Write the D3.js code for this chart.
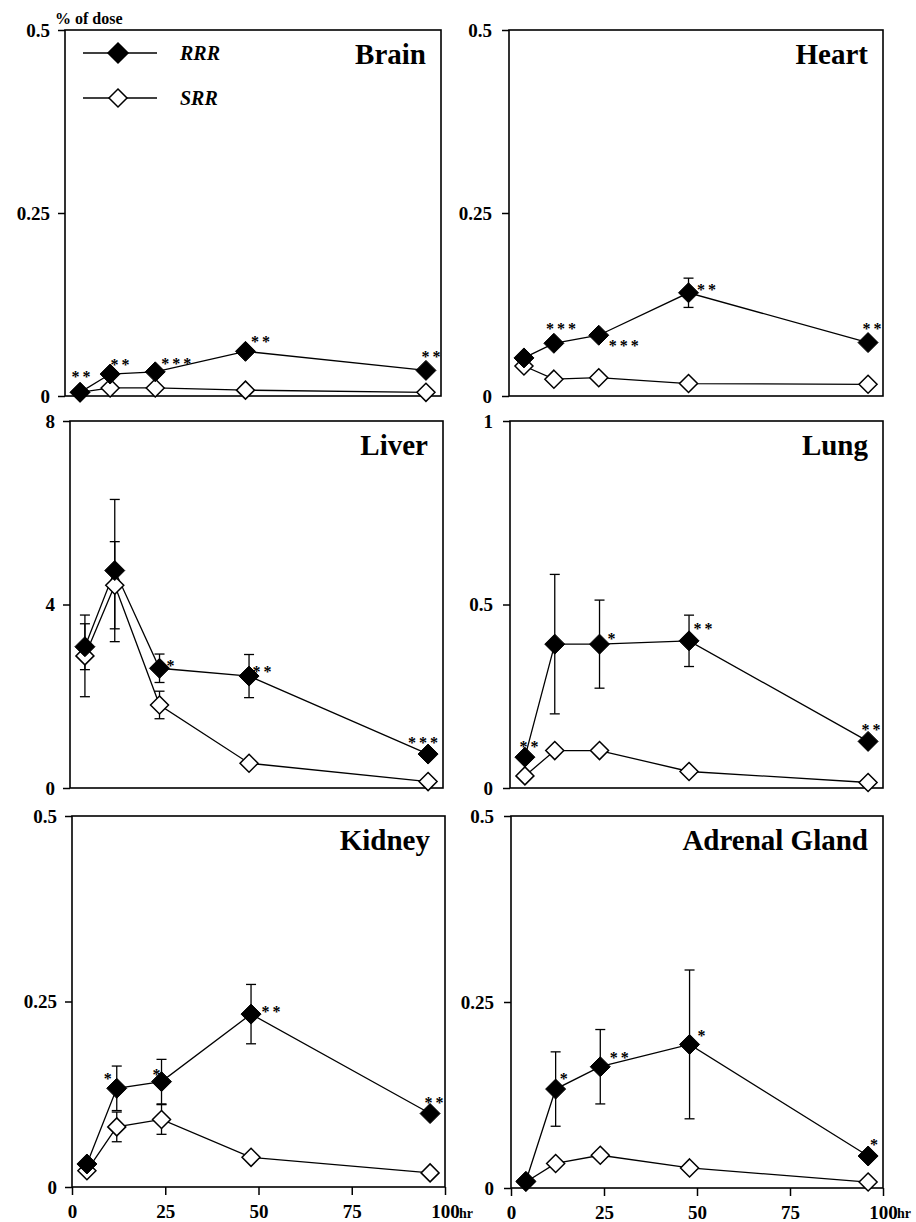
<!DOCTYPE html>
<html>
<head>
<meta charset="utf-8">
<script src="https://cdn.jsdelivr.net/npm/d3@7"></script>
<style>
  body { margin: 0; background: #fff; }
  svg { display: block; }
  text { font-family: "Liberation Serif", "Times New Roman", serif; font-weight: bold; fill: #000; }
</style>
</head>
<body>
<div id="root"></div>
<script>
// time points (hr)
const hours = [4, 12, 24, 48, 96];
const seriesNames = ["RRR", "SRR"];
const xTicks = [0, 25, 50, 75, 100];

// values (% of dose)
const brainRRR = [0.005, 0.030, 0.033, 0.061, 0.035];
const brainSRR = [0.005, 0.011, 0.011, 0.008, 0.005];
const brainStars = ["**", "**", "***", "**", "**"];

const heartRRR = [0.052, 0.072, 0.083, 0.141, 0.073];
const heartSRR = [0.041, 0.023, 0.025, 0.017, 0.016];
const heartRRRErr = [0, 0, 0, 0.02, 0];
const heartStars = ["", "***", "***", "**", "**"];

const liverRRR = [3.08, 4.74, 2.61, 2.44, 0.74];
const liverSRR = [2.88, 4.42, 1.81, 0.54, 0.14];
const liverRRRErr = [0.5, 1.55, 0.31, 0.47, 0];
const liverSRRErr = [0.89, 0.95, 0.3, 0, 0];
const liverStars = ["", "", "*", "**", "***"];

const lungRRR = [0.084, 0.392, 0.392, 0.401, 0.127];
const lungSRR = [0.033, 0.102, 0.102, 0.045, 0.015];
const lungRRRErr = [0, 0.19, 0.12, 0.07, 0];
const lungStars = ["**", "", "*", "**", "**"];

const kidneyRRR = [0.031, 0.133, 0.142, 0.233, 0.099];
const kidneySRR = [0.022, 0.081, 0.091, 0.040, 0.019];
const kidneyRRRErr = [0, 0.03, 0.03, 0.04, 0];
const kidneySRRErr = [0, 0.02, 0.02, 0, 0];
const kidneyStars = ["", "*", "*", "**", "**"];

const adrenalRRR = [0.009, 0.133, 0.163, 0.193, 0.043];
const adrenalSRR = [0.008, 0.033, 0.044, 0.027, 0.008];
const adrenalRRRErr = [0, 0.05, 0.05, 0.10, 0];
const adrenalStars = ["", "*", "**", "*", "*"];

const zeros = [0, 0, 0, 0, 0];

const panels = [
  { name: "Brain", max: 0.5, ticks: [0, 0.25, 0.5], rrr: brainRRR, srr: brainSRR, rrrErr: zeros, srrErr: zeros, stars: brainStars },
  { name: "Heart", max: 0.5, ticks: [0, 0.25, 0.5], rrr: heartRRR, srr: heartSRR, rrrErr: heartRRRErr, srrErr: zeros, stars: heartStars },
  { name: "Liver", max: 8, ticks: [0, 4, 8], rrr: liverRRR, srr: liverSRR, rrrErr: liverRRRErr, srrErr: liverSRRErr, stars: liverStars },
  { name: "Lung", max: 1, ticks: [0, 0.5, 1], rrr: lungRRR, srr: lungSRR, rrrErr: lungRRRErr, srrErr: zeros, stars: lungStars },
  { name: "Kidney", max: 0.5, ticks: [0, 0.25, 0.5], rrr: kidneyRRR, srr: kidneySRR, rrrErr: kidneyRRRErr, srrErr: kidneySRRErr, stars: kidneyStars },
  { name: "Adrenal Gland", max: 0.5, ticks: [0, 0.25, 0.5], rrr: adrenalRRR, srr: adrenalSRR, rrrErr: adrenalRRRErr, srrErr: zeros, stars: adrenalStars }
];

// layout: panel boxes and star placement (pixel offsets from the point)
const boxes = [
  { x0: 65, x1: 441, y0: 30, y1: 396 },
  { x0: 509, x1: 883, y0: 30, y1: 396 },
  { x0: 70, x1: 443, y0: 421, y1: 788 },
  { x0: 510, x1: 883, y0: 421, y1: 788 },
  { x0: 72, x1: 445, y0: 816, y1: 1187 },
  { x0: 511, x1: 883, y0: 816, y1: 1188 }
];
const starOffsets = [
  [[1, -19], [10, -13], [21, -12], [15, -13], [5, -17]],
  [[0, 0], [7, -18], [25, 7], [18, -7], [4, -18]],
  [[0, 0], [0, 0], [11, -6], [13, -8], [-5, -15]],
  [[4, -14], [0, 0], [12, -9], [14, -16], [3, -15]],
  [[0, 0], [-9, -13], [-5, -11], [20, -6], [4, -15]],
  [[0, 0], [8, -14], [19, -13], [12, -12], [6, -15]]
];

const W = 916, H = 1222;
const svg = d3.select("#root").append("svg")
  .attr("width", W)
  .attr("height", H);

const diamond = r => `M0,${-r}L${r},0L0,${r}L${-r},0Z`;

panels.forEach((p, pi) => {
  const b = boxes[pi];
  const x = d3.scaleLinear().domain([0, 100]).range([b.x0, b.x1]);
  const y = d3.scaleLinear().domain([0, p.max]).range([b.y1, b.y0]);
  const g = svg.append("g").attr("class", "panel");

  // frame
  g.append("rect")
    .attr("x", b.x0).attr("y", b.y0)
    .attr("width", b.x1 - b.x0).attr("height", b.y1 - b.y0)
    .attr("fill", "none").attr("stroke", "#000").attr("stroke-width", 1.6);

  // y axis
  const yAxis = g.append("g")
    .attr("transform", `translate(${b.x0},0)`)
    .call(d3.axisLeft(y).tickValues(p.ticks).tickSize(7).tickPadding(pi % 2 ? 10 : 8).tickFormat(d => String(d)));
  yAxis.select(".domain").remove();
  yAxis.selectAll("line").attr("stroke-width", 1.5);
  yAxis.selectAll("text")
    .attr("font-size", 19)
    .attr("font-family", "Liberation Serif, serif")
    .attr("font-weight", "bold");

  // x axis only for the bottom row
  if (pi >= 4) {
    const xAxis = g.append("g")
      .attr("transform", `translate(0,${b.y1})`)
      .call(d3.axisBottom(x).tickValues(xTicks).tickSize(8).tickPadding(10));
    xAxis.select(".domain").remove();
    xAxis.selectAll("line").attr("stroke-width", 1.5);
    xAxis.selectAll("text")
      .attr("font-size", 19)
      .attr("font-family", "Liberation Serif, serif")
      .attr("font-weight", "bold");
    g.append("text")
      .attr("x", x(100) + 14)
      .attr("y", H - 4)
      .attr("font-size", 14)
      .text("hr");
  }

  // title
  g.append("text")
    .attr("x", b.x1 - 15)
    .attr("y", b.y0 + 34)
    .attr("text-anchor", "end")
    .attr("font-size", 29)
    .text(p.name);

  const line = d3.line().x((d, i) => x(hours[i])).y(d => y(d));

  // error bars
  [[p.srr, p.srrErr], [p.rrr, p.rrrErr]].forEach(([vals, errs]) => {
    vals.forEach((v, i) => {
      if (!errs[i]) return;
      const cx = x(hours[i]);
      const top = y(v + errs[i]), bot = y(v - errs[i]);
      g.append("line").attr("x1", cx).attr("x2", cx).attr("y1", top).attr("y2", bot)
        .attr("stroke", "#000").attr("stroke-width", 1.3);
      [top, bot].forEach(yy => {
        g.append("line").attr("x1", cx - 5).attr("x2", cx + 5).attr("y1", yy).attr("y2", yy)
          .attr("stroke", "#000").attr("stroke-width", 1.3);
      });
    });
  });

  // lines
  [p.srr, p.rrr].forEach(vals => {
    g.append("path").datum(vals)
      .attr("fill", "none").attr("stroke", "#000").attr("stroke-width", 1.3)
      .attr("d", line);
  });

  // markers: SRR open, RRR filled on top
  g.selectAll(".srr").data(p.srr).join("path")
    .attr("class", "srr")
    .attr("transform", (d, i) => `translate(${x(hours[i])},${y(d)})`)
    .attr("d", diamond(9))
    .attr("fill", "#fff").attr("stroke", "#000").attr("stroke-width", 1.5);
  g.selectAll(".rrr").data(p.rrr).join("path")
    .attr("class", "rrr")
    .attr("transform", (d, i) => `translate(${x(hours[i])},${y(d)})`)
    .attr("d", diamond(10))
    .attr("fill", "#000").attr("stroke", "#000").attr("stroke-width", 1);

  // significance stars
  p.stars.forEach((s, i) => {
    if (!s) return;
    const [dx, dy] = starOffsets[pi][i];
    g.append("text")
      .attr("x", x(hours[i]) + dx + 1.5)
      .attr("y", y(p.rrr[i]) + dy + 9)
      .attr("text-anchor", "middle")
      .attr("font-size", 16)
      .attr("font-weight", "normal")
      .attr("letter-spacing", 3)
      .text(s);
  });
});

// y unit label
svg.append("text")
  .attr("x", 55)
  .attr("y", 24)
  .attr("font-size", 16)
  .text("% of dose");

// legend inside the Brain panel
const legend = svg.append("g").attr("class", "legend");
seriesNames.forEach((name, i) => {
  const ly = 53 + i * 45;
  legend.append("line").attr("x1", 83).attr("x2", 157).attr("y1", ly).attr("y2", ly)
    .attr("stroke", "#000").attr("stroke-width", 1.3);
  legend.append("path")
    .attr("transform", `translate(118,${ly})`)
    .attr("d", diamond(i === 0 ? 10 : 9))
    .attr("fill", i === 0 ? "#000" : "#fff")
    .attr("stroke", "#000").attr("stroke-width", 1.5);
  legend.append("text")
    .attr("x", 180)
    .attr("y", ly + 7)
    .attr("font-size", 20)
    .attr("font-style", "italic")
    .text(name);
});
</script>
</body>
</html>
